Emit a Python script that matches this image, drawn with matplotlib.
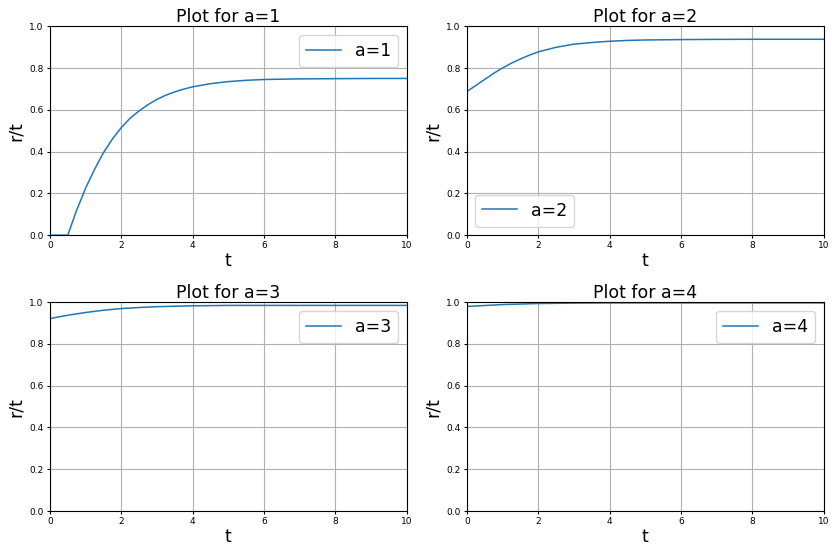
import matplotlib
matplotlib.use("Agg")
import matplotlib.pyplot as plt

# values (r/t against t)
t1 = [0, 0.25, 0.5, 0.75, 1.0, 1.25, 1.5, 1.75, 2.0, 2.25, 2.5, 2.75, 3.0,
      3.25, 3.5, 3.75, 4.0, 4.5, 5.0, 5.5, 6.0, 7.0, 8.0, 9.0, 10.0]
r1 = [0, 0, 0, 0.12, 0.225, 0.315, 0.395, 0.46, 0.515, 0.56, 0.595, 0.625,
      0.65, 0.67, 0.686, 0.699, 0.71, 0.725, 0.735, 0.741, 0.745, 0.748,
      0.749, 0.75, 0.75]

t2 = [0, 0.25, 0.5, 0.75, 1.0, 1.25, 1.5, 1.75, 2.0, 2.5, 3.0, 3.5, 4.0, 4.5,
      5.0, 6.0, 7.0, 8.0, 10.0]
r2 = [0.687, 0.716, 0.745, 0.774, 0.80, 0.823, 0.843, 0.861, 0.877, 0.899,
      0.914, 0.922, 0.928, 0.932, 0.934, 0.936, 0.937, 0.9375, 0.9375]

t3 = [0, 0.5, 1.0, 1.5, 2.0, 2.5, 3.0, 4.0, 5.0, 6.0, 8.0, 10.0]
r3 = [0.921, 0.937, 0.950, 0.961, 0.969, 0.974, 0.978, 0.982, 0.984, 0.984,
      0.984, 0.984]

t4 = [0, 1.0, 2.0, 3.0, 4.0, 6.0, 8.0, 10.0]
r4 = [0.979, 0.988, 0.993, 0.995, 0.996, 0.996, 0.996, 0.996]

series = [(1, t1, r1, "upper right"), (2, t2, r2, "lower left"),
          (3, t3, r3, "upper right"), (4, t4, r4, "upper right")]


def main():
    fig, axes = plt.subplots(2, 2, figsize=(8.32, 5.46), dpi=100)
    fig.subplots_adjust(left=0.060, right=0.990, top=0.952, bottom=0.064,
                        wspace=0.168, hspace=0.32)

    for ax, (a, t, r, loc) in zip(axes.flat, series):
        ax.plot(t, r, color="#1f77b4", linewidth=1.1, label=f"a={a}")
        ax.set_xlim(0, 10)
        ax.set_ylim(0, 1)
        ax.set_title(f"Plot for a={a}", fontsize=12.5, pad=3)
        ax.set_xlabel("t", fontsize=12.5, labelpad=1)
        ax.set_ylabel("r/t", fontsize=12.5, labelpad=3)
        ax.tick_params(labelsize=6.5, length=2.5, pad=2)
        ax.grid(True, color="#b0b0b0", linewidth=0.8)
        ax.legend(loc=loc, fontsize=12.5)

    plt.savefig("out.png")


if __name__ == "__main__":
    main()
